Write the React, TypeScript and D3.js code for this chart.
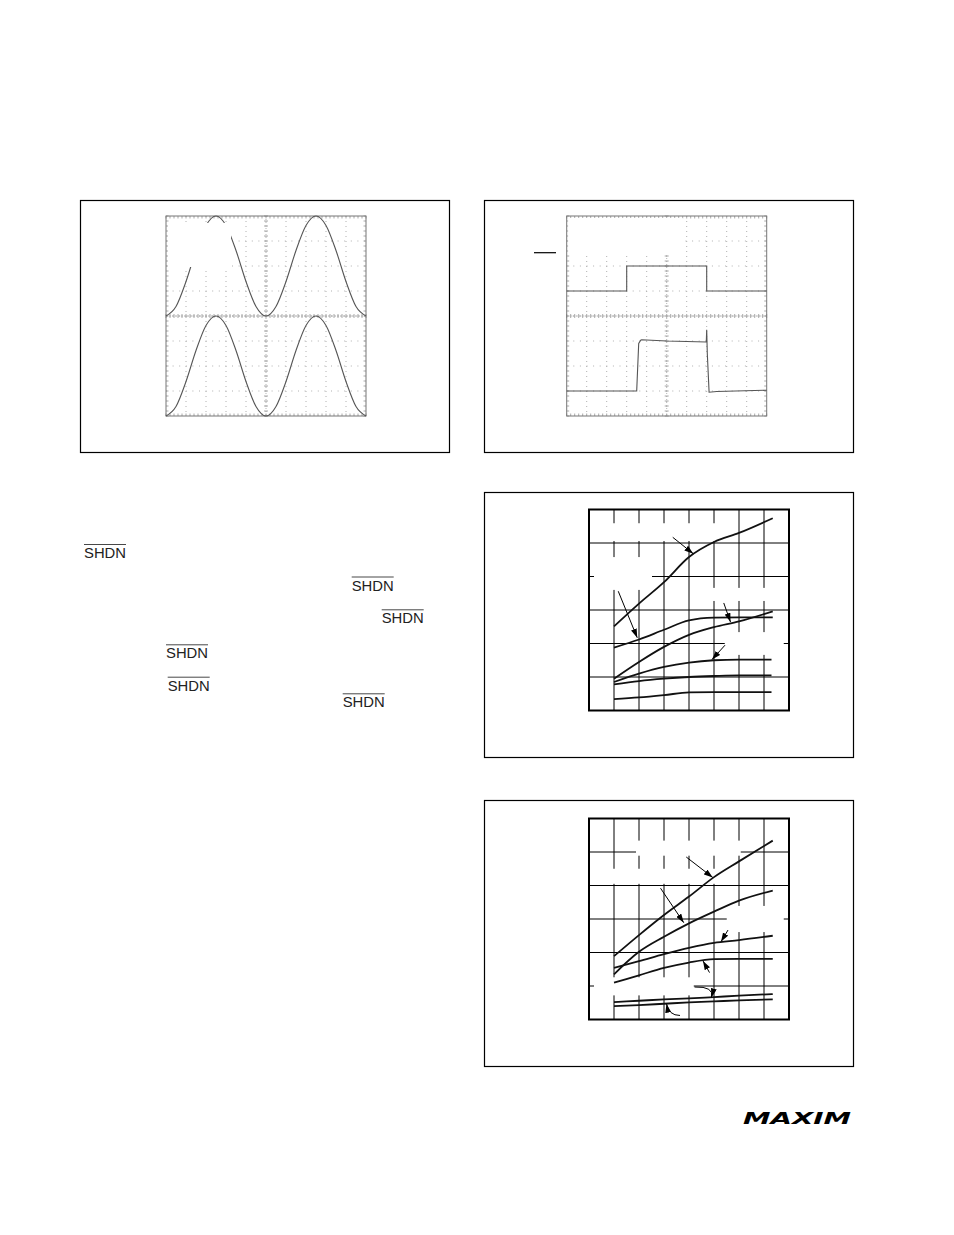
import * as d3 from 'd3';

// ---------- scope 1: two sine traces (divisions, x 0..10, y 0..8) ----------
const scopeX = [0, 0.5, 1, 1.5, 2, 2.5, 3, 3.5, 4, 4.5, 5, 5.5, 6, 6.5, 7, 7.5, 8, 8.5, 9, 9.5, 10];
const sineTop = [4, 4.38, 5.38, 6.62, 7.62, 8, 7.62, 6.62, 5.38, 4.38, 4, 4.38, 5.38, 6.62, 7.62, 8, 7.62, 6.62, 5.38, 4.38, 4];
const sineBottom = [0, 0.38, 1.38, 2.62, 3.62, 4, 3.62, 2.62, 1.38, 0.38, 0, 0.38, 1.38, 2.62, 3.62, 4, 3.62, 2.62, 1.38, 0.38, 0];

// ---------- scope 2: shutdown pulse and output response ----------
const pulseX = [0, 3, 3, 7, 7, 10];
const pulseY = [5, 5, 6, 6, 5, 5];
const respX = [0, 3.5, 3.6, 3.7, 3.75, 5, 6.98, 7.0, 7.03, 7.12, 7.5, 10];
const respY = [1.0, 1.0, 2.9, 3.03, 3.05, 3.0, 2.96, 3.45, 2.5, 0.95, 0.98, 1.03];

// ---------- graph 3 (divisions, x 0..8, y 0..6) ----------
const curveX = [1, 2, 3, 4, 5, 6, 7.35];
const shortX = [1, 2, 3, 4, 5, 6, 7.3];
const g3A = [2.51, 3.19, 3.83, 4.58, 5.03, 5.3, 5.74];
const g3B = [1.88, 2.12, 2.41, 2.69, 2.77, 2.78, 2.78];
const g3C = [0.95, 1.45, 1.9, 2.26, 2.49, 2.66, 2.96];
const g3D = [0.85, 1.1, 1.3, 1.43, 1.5, 1.52, 1.52];
const g3E = [0.78, 0.88, 0.95, 1.0, 1.03, 1.05, 1.05];
const g3F = [0.34, 0.39, 0.46, 0.54, 0.55, 0.55, 0.55];

// ---------- graph 4 ----------
const g4A = [1.89, 2.52, 3.12, 3.67, 4.25, 4.72, 5.34];
const g4B = [1.35, 2.02, 2.47, 2.87, 3.22, 3.55, 3.85];
const g4C = [1.54, 1.74, 1.95, 2.14, 2.29, 2.37, 2.5];
const g4D = [1.1, 1.32, 1.54, 1.7, 1.8, 1.81, 1.81];
const g4E = [0.52, 0.56, 0.6, 0.63, 0.67, 0.71, 0.76];
const g4F = [0.4, 0.43, 0.47, 0.51, 0.54, 0.57, 0.6];

// arrows [x1, y1, x2, y2] in divisions
const g3Arrows = [
  [3.35, 5.17, 4.17, 4.68],
  [1.17, 3.56, 1.93, 2.17],
  [5.39, 3.21, 5.66, 2.64],
  [5.44, 1.95, 4.92, 1.52],
];
const g4Arrows = [
  [3.89, 4.85, 4.95, 4.24],
  [2.86, 3.92, 3.79, 2.89],
  [5.56, 2.67, 5.28, 2.32],
  [4.82, 1.4, 4.56, 1.75],
];
// curved arrows [x1, y1, cx, cy, x2, y2]
const g4Hooks = [
  [4.22, 0.97, 5.02, 0.99, 4.9, 0.66],
  [3.64, 0.12, 3.19, 0.12, 3.1, 0.47],
];

// erased label areas [x0, x1, y0, y1] in divisions
const scope1Blank = [[0.1, 3.25, 5.96, 7.72]];
const scope2Blank = [[0.07, 5.8, 6.48, 7.92]];
const g3Blank = [
  [0.6, 5.5, 5.06, 5.59],
  [0.2, 2.52, 3.6, 4.58],
  [4.43, 7.63, 3.27, 3.66],
  [5.43, 7.79, 1.66, 2.34],
];
const g4Blank = [
  [1.88, 6.07, 4.89, 5.34],
  [0.68, 5.23, 4.05, 4.5],
  [5.51, 7.79, 2.61, 3.39],
  [0.2, 4.19, 0.72, 1.26],
];

// SHDN labels in the body text [x, baseline]
const shdnLabels = [
  [84, 558],
  [351.7, 590.5],
  [381.7, 623.3],
  [166, 658.3],
  [167.7, 690.7],
  [342.7, 707.3],
];

type Trace = { xs: number[]; ys: number[]; curve: d3.CurveFactory };

function Scope({ left, top, traces, blanks, extra }: { left: number; top: number; traces: Trace[]; blanks: number[][]; extra?: React.ReactNode }) {
  const x = d3.scaleLinear([0, 10], [left, left + 200]);
  const y = d3.scaleLinear([0, 8], [top + 200, top]);
  const minorX = d3.range(0, 10.001, 0.2);
  const minorY = d3.range(0, 8.001, 0.2);
  const grid = '#b0b0b0';
  return (
    <g>
      {d3.range(1, 10).map(i => (
        <line key={'v' + i} x1={x(i)} x2={x(i)} y1={y(8)} y2={y(0)} stroke={grid} strokeDasharray="1,4" />
      ))}
      {d3.range(1, 8).map(i => (
        <line key={'h' + i} x1={x(0)} x2={x(10)} y1={y(i)} y2={y(i)} stroke={grid} strokeDasharray="1,5.6" />
      ))}
      <line x1={x(0)} x2={x(10)} y1={y(4)} y2={y(4)} stroke="#aaa" strokeDasharray="2,1" />
      <line x1={x(5)} x2={x(5)} y1={y(8)} y2={y(0)} stroke="#b5b5b5" strokeDasharray="1,2" />
      {minorX.map((d, i) => (
        <g key={'mx' + i} stroke="#aaa">
          <line x1={x(d)} x2={x(d)} y1={y(4) - 2} y2={y(4) + 2} />
          <line x1={x(d)} x2={x(d)} y1={y(8)} y2={y(8) + 2.5} />
          <line x1={x(d)} x2={x(d)} y1={y(0)} y2={y(0) - 2.5} />
        </g>
      ))}
      {minorY.map((d, i) => (
        <g key={'my' + i} stroke="#aaa">
          <line x1={x(5) - 2} x2={x(5) + 2} y1={y(d)} y2={y(d)} />
          <line x1={x(0)} x2={x(0) + 2.5} y1={y(d)} y2={y(d)} />
          <line x1={x(10)} x2={x(10) - 2.5} y1={y(d)} y2={y(d)} />
        </g>
      ))}
      <rect x={x(0)} y={y(8)} width={200} height={200} fill="none" stroke="#777" strokeWidth={1} />
      {traces.map((t, i) => {
        const line = d3
          .line<number>()
          .curve(t.curve)
          .x(j => x(t.xs[j]))
          .y(j => y(t.ys[j]));
        return <path key={i} d={line(d3.range(t.xs.length)) || ''} fill="none" stroke="#555" strokeWidth={1.1} />;
      })}
      {blanks.map((b, i) => (
        <rect key={'b' + i} x={x(b[0])} y={y(b[3])} width={x(b[1]) - x(b[0])} height={y(b[2]) - y(b[3])} fill="#fff" />
      ))}
      {extra}
    </g>
  );
}

function Graph({ left, top, curves, blanks, arrows, hooks = [] }: { left: number; top: number; curves: [number[], number[]][]; blanks: number[][]; arrows: number[][]; hooks?: number[][] }) {
  const x = d3.scaleLinear([0, 8], [left, left + 200]);
  const y = d3.scaleLinear([0, 6], [top + 201, top]);
  return (
    <g>
      {d3.range(1, 8).map(i => (
        <line key={'v' + i} x1={x(i)} x2={x(i)} y1={y(6)} y2={y(0)} stroke="#000" strokeWidth={1} />
      ))}
      {d3.range(1, 6).map(i => (
        <line key={'h' + i} x1={x(0)} x2={x(8)} y1={y(i)} y2={y(i)} stroke="#000" strokeWidth={1} />
      ))}
      {blanks.map((b, i) => (
        <rect key={'b' + i} x={x(b[0])} y={y(b[3])} width={x(b[1]) - x(b[0])} height={y(b[2]) - y(b[3])} fill="#fff" />
      ))}
      <rect x={x(0)} y={y(6)} width={x(8) - x(0)} height={y(0) - y(6)} fill="none" stroke="#000" strokeWidth={2} />
      {curves.map(([xs, ys], i) => {
        const line = d3
          .line<number>()
          .curve(d3.curveMonotoneX)
          .x(j => x(xs[j]))
          .y(j => y(ys[j]));
        return <path key={'c' + i} d={line(d3.range(xs.length)) || ''} fill="none" stroke="#111" strokeWidth={1.8} />;
      })}
      {arrows.map((a, i) => (
        <line key={'a' + i} x1={x(a[0])} y1={y(a[1])} x2={x(a[2])} y2={y(a[3])} stroke="#000" strokeWidth={1} markerEnd="url(#head)" />
      ))}
      {hooks.map((h, i) => {
        const p = d3.path();
        p.moveTo(x(h[0]), y(h[1]));
        p.quadraticCurveTo(x(h[2]), y(h[3]), x(h[4]), y(h[5]));
        return <path key={'k' + i} d={p.toString()} fill="none" stroke="#000" strokeWidth={1} markerEnd="url(#head)" />;
      })}
    </g>
  );
}

export default function App() {
  const boxes = [
    [80.5, 200.5, 369, 252],
    [484.5, 200.5, 369, 252],
    [484.5, 492.5, 369, 265],
    [484.5, 800.5, 369, 266],
  ];
  return (
    <svg width={954} height={1235} viewBox="0 0 954 1235" style={{ position: 'absolute', left: 0, top: 0, background: '#fff' }}>
      <defs>
        <marker id="head" viewBox="0 0 9 6" refX={9} refY={3} markerWidth={9} markerHeight={6} markerUnits="userSpaceOnUse" orient="auto">
          <path d="M0,0 L9,3 L0,6 z" fill="#000" />
        </marker>
      </defs>
      {boxes.map((b, i) => (
        <rect key={i} x={b[0]} y={b[1]} width={b[2]} height={b[3]} fill="none" stroke="#000" strokeWidth={1.2} />
      ))}

      <Scope
        left={166}
        top={216}
        traces={[
          { xs: scopeX, ys: sineTop, curve: d3.curveMonotoneX },
          { xs: scopeX, ys: sineBottom, curve: d3.curveMonotoneX },
        ]}
        blanks={scope1Blank}
      />
      <Scope
        left={566.7}
        top={216}
        traces={[
          { xs: pulseX, ys: pulseY, curve: d3.curveLinear },
          { xs: respX, ys: respY, curve: d3.curveLinear },
        ]}
        blanks={scope2Blank}
        extra={<line x1={534} x2={556} y1={252.7} y2={252.7} stroke="#000" strokeWidth={1.2} />}
      />

      <Graph
        left={589}
        top={509.5}
        curves={[
          [curveX, g3A],
          [curveX, g3B],
          [curveX, g3C],
          [shortX, g3D],
          [shortX, g3E],
          [shortX, g3F],
        ]}
        blanks={g3Blank}
        arrows={g3Arrows}
      />
      <Graph
        left={589}
        top={818.5}
        curves={[
          [curveX, g4A],
          [curveX, g4B],
          [curveX, g4C],
          [curveX, g4D],
          [curveX, g4E],
          [curveX, g4F],
        ]}
        blanks={g4Blank}
        arrows={g4Arrows}
        hooks={g4Hooks}
      />

      {shdnLabels.map(([lx, by], i) => (
        <g key={i}>
          <text x={lx} y={by} fontFamily="Liberation Sans, Arial, sans-serif" fontSize={14} fill="#222" textLength={42} lengthAdjust="spacingAndGlyphs">
            SHDN
          </text>
          <line x1={lx} x2={lx + 42} y1={by - 13.5} y2={by - 13.5} stroke="#333" strokeWidth={0.9} />
        </g>
      ))}

      <text x={743} y={1124} fontFamily="DejaVu Sans, sans-serif" fontWeight={900} fontStyle="italic" fontSize={15} fill="#000" textLength={108} lengthAdjust="spacingAndGlyphs">
        MAXIM
      </text>
    </svg>
  );
}
